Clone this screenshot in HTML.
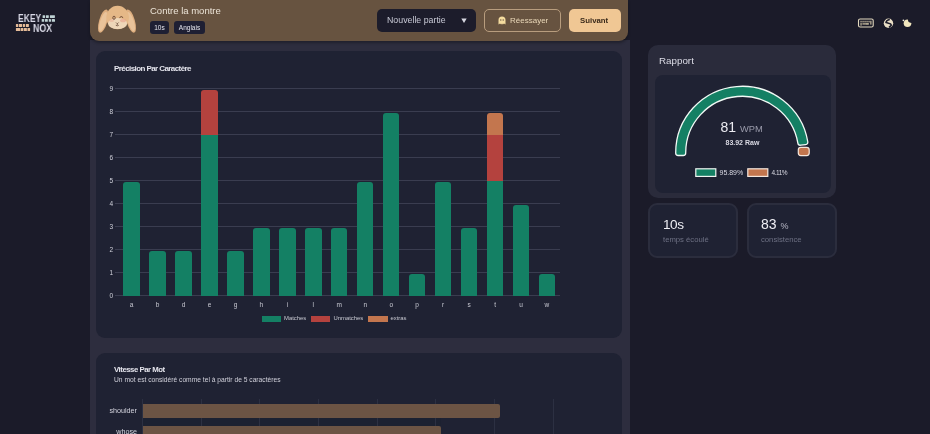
<!DOCTYPE html>
<html><head><meta charset="utf-8">
<style>
*{margin:0;padding:0;box-sizing:border-box}
html,body{width:930px;height:434px;overflow:hidden;background:#1b1b29;font-family:"Liberation Sans",sans-serif;color:#e2e2ea}
.a{position:absolute;white-space:nowrap}
body>*{will-change:transform}
#main{position:absolute;left:90px;top:40px;width:540px;height:394px;background:#2d2d3e}
#hdr{position:absolute;left:90px;top:0;width:538px;height:41px;background:#675340;border-radius:0 0 9px 9px;box-shadow:0 2px 3px rgba(0,0,0,.3)}
.card{position:absolute;background:#1f2233;border-radius:9px}
.tag{position:absolute;background:#1e1f33;border-radius:3px;color:#e6e6ee;font-size:6.5px;text-align:center}
.grid{position:absolute;height:1px;background:#3a3d50}
.bar{position:absolute;width:16.4px}
.g{background:#148064}
.r{background:#b4423e}
.o{background:#c3764e}
.yl{position:absolute;font-size:6.5px;color:#d0d1da;width:10px;text-align:right}
.xl{position:absolute;font-size:6.5px;color:#c8c9d2;width:20px;text-align:center}
</style></head><body>
<div id="main"></div>
<div id="hdr"></div>

<!-- logo -->
<div class="a" style="left:18px;top:13px;font-size:10px;line-height:12px;color:#d9d9e6;transform:scaleX(.85);transform-origin:0 0;font-weight:bold">EKEY</div>
<div class="a" style="left:33px;top:23px;font-size:10px;line-height:12px;color:#d9d9e6;transform:scaleX(.88);transform-origin:0 0;font-weight:bold">NOX</div>
<svg class="a" style="left:0;top:0" width="90" height="40">
 <g fill="#bfd2d4">
  <rect x="42.6" y="15.2" width="2.5" height="2.7" rx=".4"/><rect x="45.9" y="15.2" width="2.9" height="2.7" rx=".4"/><rect x="49.9" y="15.2" width="5" height="2.7" rx=".4"/>
  <rect x="41.7" y="19.1" width="2.4" height="2.7" rx=".4"/><rect x="44.9" y="19.1" width="2.9" height="2.7" rx=".4"/><rect x="48.8" y="19.1" width="2.2" height="2.7" rx=".4"/><rect x="51.8" y="19.1" width="3.2" height="2.7" rx=".4"/>
 </g>
 <g fill="#e4bb98">
  <rect x="15.9" y="23.9" width="2.3" height="3.1" rx=".4"/><rect x="18.8" y="23.9" width="3.3" height="3.1" rx=".4"/><rect x="22.8" y="23.9" width="2.2" height="3.1" rx=".4"/><rect x="25.8" y="23.9" width="3.1" height="3.1" rx=".4"/>
  <rect x="15.9" y="27.9" width="4.2" height="3.2" rx=".4"/><rect x="20.6" y="27.9" width="2.6" height="3.2" rx=".4"/><rect x="23.7" y="27.9" width="3.2" height="3.2" rx=".4"/><rect x="27.5" y="27.9" width="2.6" height="3.2" rx=".4"/>
 </g>
</svg>

<!-- bunny -->
<svg class="a" style="left:94px;top:2px" width="46" height="36" viewBox="0 0 46 36">
 <ellipse cx="9.2" cy="19" rx="4.1" ry="12" transform="rotate(16 9 19)" fill="#deae7f"/>
 <ellipse cx="36.8" cy="19" rx="4.1" ry="12" transform="rotate(-16 37 19)" fill="#deae7f"/>
 <ellipse cx="9.3" cy="19.5" rx="3" ry="10" transform="rotate(18 9 19)" fill="#e9c39a"/>
 <ellipse cx="36.7" cy="19.5" rx="3" ry="10" transform="rotate(-18 37 19)" fill="#e9c39a"/>
 <ellipse cx="23.6" cy="15.5" rx="11.3" ry="11.8" fill="#e5b887"/>
 <ellipse cx="23.6" cy="21.5" rx="9.5" ry="5.6" fill="#eed6b8"/>
 <ellipse cx="29" cy="18.5" rx="3" ry="1.8" fill="#e8a08a" opacity=".6"/>
 <ellipse cx="17.5" cy="18.5" rx="2.5" ry="1.6" fill="#e8a08a" opacity=".4"/>
 <ellipse cx="20" cy="15.8" rx="1.2" ry="1.6" fill="none" stroke="#5a3a2a" stroke-width=".8"/>
 <path d="M25.5 15.6 q1.8 -2 3.6 0" fill="none" stroke="#5a3a2a" stroke-width=".9"/>
 <path d="M22 20.5 l1.3 1.3 l1.3 -1.3 M23.3 21.8 v1.2 M21.8 23.3 q1.5 1 3 0" fill="none" stroke="#5a3a2a" stroke-width=".7"/>
</svg>

<div class="a" style="left:149.5px;top:5px;font-size:9.5px;line-height:12px;color:#ebe3d6">Contre la montre</div>
<div class="tag" style="left:149.5px;top:21px;width:19px;height:13px;line-height:13px">10s</div>
<div class="tag" style="left:173.5px;top:21px;width:31px;height:13px;line-height:13px">Anglais</div>

<!-- dropdown & buttons -->
<div class="a" style="left:377px;top:9px;width:99px;height:23px;background:#1c1c2b;border-radius:5px"></div>
<div class="a" style="left:387px;top:15px;font-size:8.8px;line-height:11px;color:#c9cad6">Nouvelle partie</div>
<svg class="a" style="left:460.5px;top:18px" width="6" height="6"><path d="M0.3 0.5 H5.7 L3 5 Z" fill="#d5d6e0"/></svg>

<div class="a" style="left:484px;top:9px;width:77px;height:23px;border:1px solid #b89d7e;border-radius:5px"></div>
<svg class="a" style="left:497.5px;top:16px" width="8" height="9" viewBox="0 0 8 9"><path d="M0.5 8.5 V4 Q0.5 0.5 4 0.5 Q7.5 0.5 7.5 4 V8.5 L6 7.5 L4.8 8.5 L4 7.5 L3.2 8.5 L2 7.5 Z" fill="#f4dc9f"/><circle cx="2.8" cy="4" r=".7" fill="#675340"/><circle cx="5.2" cy="4" r=".7" fill="#675340"/></svg>
<div class="a" style="left:510px;top:15px;font-size:8px;line-height:11px;color:#ead8b8">Réessayer</div>

<div class="a" style="left:568.5px;top:9px;width:52px;height:23px;background:#f0c794;border-radius:5px"></div>
<div class="a" style="left:580px;top:15px;font-size:7.8px;line-height:11px;color:#3a2a1a;font-weight:bold">Suivant</div>

<!-- right icons -->
<svg class="a" style="left:850px;top:10px" width="70" height="25" viewBox="0 0 70 25">
 <defs><mask id="mm"><rect width="70" height="25" fill="#fff"/><circle cx="61.2" cy="9.6" r="3.3" fill="#000"/></mask></defs>
 <rect x="8.5" y="9" width="14.7" height="8" rx="1.6" fill="none" stroke="#e3d9bf" stroke-width="1.1"/>
 <g fill="#b8ae96"><rect x="10.4" y="10.8" width="1.3" height="1.6"/><rect x="12.4" y="10.8" width="1.3" height="1.6"/><rect x="14.4" y="10.8" width="1.3" height="1.6"/><rect x="16.4" y="10.8" width="1.3" height="1.6"/><rect x="18.4" y="10.8" width="1.3" height="1.6"/><rect x="20.2" y="10.8" width="1.3" height="3.8"/>
 <rect x="10.4" y="13" width="1.3" height="2.6"/><rect x="12.4" y="13.2" width="6.6" height="1.4"/><rect x="16.4" y="13" width="1.3" height="1.6"/></g>
 <circle cx="38.5" cy="13.2" r="4.7" fill="#eadfc6"/>
 <path d="M39.8 9.6 Q36.4 10.2 36 12.4 L38.6 13.2 Q41.4 13.6 41.2 15.6 Q40.2 16.8 38.8 17.2" fill="none" stroke="#1b1b29" stroke-width="1.5"/>
 <circle cx="57.5" cy="13.2" r="3.8" fill="#f1e6bd" mask="url(#mm)"/>
 <circle cx="53.4" cy="10.3" r=".85" fill="#f4f0e0"/>
</svg>

<!-- card 1 -->
<div class="card" style="left:96px;top:51px;width:526px;height:286.5px"></div>
<div class="a" style="left:113.5px;top:64px;font-size:8px;line-height:10px;font-weight:bold;color:#e4e4ec;letter-spacing:-.58px">Précision Par Caractère</div>
<div id="chart1"></div>

<!-- card 2 -->
<div class="card" style="left:96px;top:352.8px;width:526px;height:100px"></div>
<div class="a" style="left:113.5px;top:365px;font-size:7.8px;line-height:10px;font-weight:bold;color:#e4e4ec;letter-spacing:-.48px">Vitesse Par Mot</div>
<div class="a" style="left:113.5px;top:375px;font-size:6.7px;line-height:9px;color:#d0d0da">Un mot est considéré comme tel à partir de 5 caractères</div>
<div id="chart2"></div>

<!-- rapport -->
<div class="a" style="left:648px;top:45px;width:188px;height:153px;background:#2a2b3b;border-radius:10px"></div>
<div class="a" style="left:658.5px;top:55px;font-size:9.8px;line-height:12px;color:#dcdce6">Rapport</div>
<div class="a" style="left:655px;top:74.5px;width:176px;height:118px;background:#1f2233;border-radius:8px"></div>
<div id="gauge"></div>

<div class="a" style="left:648px;top:203px;width:90px;height:55px;background:#1f2233;border:2px solid #2b2d3d;border-radius:9px"></div>
<div class="a" style="left:663px;top:216px;font-size:13.6px;line-height:17px;color:#eeeef4;letter-spacing:-.45px">10s</div>
<div class="a" style="left:663px;top:235px;font-size:7.7px;line-height:10px;color:#6d7083">temps écoulé</div>
<div class="a" style="left:747px;top:203px;width:90px;height:55px;background:#1f2233;border:2px solid #2b2d3d;border-radius:9px"></div>
<div class="a" style="left:761px;top:216px;font-size:14px;line-height:17px;color:#eeeef4">83 <span style="font-size:9px;color:#b5b6c4">%</span></div>
<div class="a" style="left:761px;top:235px;font-size:7.7px;line-height:10px;color:#6d7083">consistence</div>

<script>
(function(){
 var c=document.getElementById('chart1'), h='';
 var base=295.5, unit=23;
 for(var i=0;i<=9;i++){
   var y=base-i*unit;
   h+='<div class="grid" style="left:115px;width:445px;top:'+(y-0.5)+'px"></div>';
   h+='<div class="yl" style="left:103px;top:'+(y-4)+'px;line-height:8px">'+i+'</div>';
 }
 var L='abdeghilmnoprstuw'.split('');
 var V=[[5],[2],[2],[7,2],[2],[3],[3],[3],[3],[5],[8],[1],[5],[3],[5,2,1],[4],[1]];
 var cls=['g','r','o'];
 for(var i=0;i<L.length;i++){
   var cx=131.6+i*25.96, x=cx-8.2, acc=0, segs=V[i];
   for(var k=0;k<segs.length;k++){
     var top=base-(acc+segs[k])*unit+(k==segs.length-1?1:0), bot=base-acc*unit+(k==0?0.8:0);
     var rad=(k==segs.length-1)?'border-radius:3px 3px 0 0;':'';
     h+='<div class="bar '+cls[k]+'" style="left:'+x+'px;top:'+top+'px;height:'+(bot-top)+'px;'+rad+'"></div>';
     acc+=segs[k];
   }
   h+='<div class="xl" style="left:'+(cx-10)+'px;top:301px;line-height:8px">'+L[i]+'</div>';
 }
 // legend
 h+='<div class="a g" style="left:261.5px;top:315.5px;width:19px;height:6px"></div>';
 h+='<div class="a" style="left:284px;top:314px;font-size:5.9px;line-height:8px;color:#c8c9d2">Matches</div>';
 h+='<div class="a r" style="left:311px;top:315.5px;width:19px;height:6px"></div>';
 h+='<div class="a" style="left:333.5px;top:314px;font-size:5.9px;line-height:8px;color:#c8c9d2">Unmatches</div>';
 h+='<div class="a o" style="left:368px;top:315.5px;width:20px;height:6px"></div>';
 h+='<div class="a" style="left:390.5px;top:314px;font-size:5.9px;line-height:8px;color:#c8c9d2">extras</div>';
 c.innerHTML=h;

 var c2=document.getElementById('chart2'); h='';
 h+='<div class="a" style="left:142.6px;top:418px;width:298px;height:8px;background:#1c2131"></div>';
 for(var k=0;k<8;k++){
   h+='<div class="a" style="left:'+(142.5+k*58.65-0.5)+'px;top:399px;width:1px;height:40px;background:#2c3042"></div>';
 }
  h+='<div class="a" style="left:142.6px;top:404px;width:357px;height:14px;background:#6c5444;border-radius:0 2px 2px 0"></div>';
 h+='<div class="a" style="left:142.6px;top:426px;width:298px;height:14px;background:#6c5444;border-radius:0 2px 2px 0"></div>';
 h+='<div class="a" style="left:97px;top:406px;width:40px;text-align:right;font-size:7.2px;line-height:9px;color:#d4d4de">shoulder</div>';
 h+='<div class="a" style="left:97px;top:427px;width:40px;text-align:right;font-size:7.2px;line-height:9px;color:#d4d4de">whose</div>';
 c2.innerHTML=h;

 // gauge
 var g=document.getElementById('gauge');
 var cx=742.2, cy=152.8, Ro=66.5, Ri=56.5;
 function pt(r,a){return [cx+r*Math.cos(a), cy-r*Math.sin(a)];}
 var aEnd=7.4*Math.PI/180;
 var r=2.5, yb=155.5;
 var p2=pt(Ro,aEnd), p3=pt(Ri,aEnd), q1=pt(Ro,aEnd+r/Ro), q4=pt(Ri,aEnd+r/Ri);
 var ix=-Math.cos(aEnd), iy=Math.sin(aEnd);
 var q2=[p2[0]+r*ix,p2[1]+r*iy], q3=[p3[0]-r*ix,p3[1]-r*iy];
 var d='M'+(cx-Ro)+' '+(yb-r)+' L'+(cx-Ro)+' '+cy+' A'+Ro+' '+Ro+' 0 0 1 '+q1[0]+' '+q1[1]+' Q'+p2[0]+' '+p2[1]+' '+q2[0]+' '+q2[1]+' L'+q3[0]+' '+q3[1]+' Q'+p3[0]+' '+p3[1]+' '+q4[0]+' '+q4[1]+' A'+Ri+' '+Ri+' 0 0 0 '+(cx-Ri)+' '+cy+' L'+(cx-Ri)+' '+(yb-r)+' Q'+(cx-Ri)+' '+yb+' '+(cx-Ri-r)+' '+yb+' L'+(cx-Ro+r)+' '+yb+' Q'+(cx-Ro)+' '+yb+' '+(cx-Ro)+' '+(yb-r)+' Z';
 var s='<svg class="a" style="left:0;top:0" width="930" height="434">';
 s+='<path d="'+d+'" fill="#148064" stroke="#f2faf6" stroke-width="1.3" stroke-linejoin="round"/>';
 s+='<rect x="798.3" y="147.4" width="10.9" height="8.2" rx="2.5" fill="#c3764e" stroke="#f5e6dc" stroke-width="1.2"/>';
 s+='<rect x="695.8" y="168.8" width="20" height="7.6" fill="#148064" stroke="#f0f5f2" stroke-width="1.2"/>';
 s+='<rect x="747.8" y="168.8" width="20" height="7.6" fill="#c3764e" stroke="#f5e6dc" stroke-width="1.2"/>';
 s+='</svg>';
 s+='<div class="a" style="left:720.5px;top:119px;font-size:14px;line-height:16px;color:#ececf2">81 <span style="font-size:9.3px;color:#9a9bab">WPM</span></div>';
 s+='<div class="a" style="left:725.5px;top:138px;font-size:7px;line-height:9px;font-weight:bold;color:#d8d8e2">83.92 Raw</div>';
 s+='<div class="a" style="left:719.5px;top:168px;font-size:7px;line-height:9px;color:#d8d8e2">95.89%</div>';
 s+='<div class="a" style="left:771.5px;top:168px;font-size:6.5px;line-height:9px;color:#d8d8e2;letter-spacing:-.45px">4.11%</div>';
 g.innerHTML=s;
})();
</script>
</body></html>
